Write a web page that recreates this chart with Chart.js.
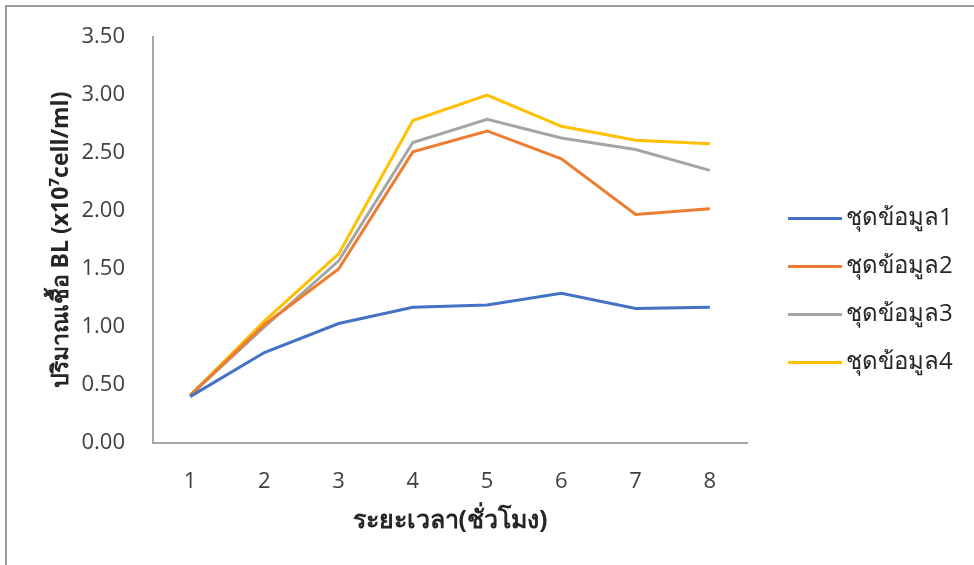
<!DOCTYPE html>
<html>
<head>
<meta charset="utf-8">
<script src="https://cdn.jsdelivr.net/npm/chart.js@4.4.1/dist/chart.umd.min.js"></script>
<style>
  body { margin: 0; background: #fff; }
  #frame { position: absolute; left: 5px; top: 5px; width: 980px; height: 570px;
           border-top: 2px solid #9a9a9a; border-left: 2px solid #9a9a9a; }
  #wrap { position: absolute; left: 0; top: 0; width: 974px; height: 565px; }
</style>
</head>
<body>
<div id="frame"></div>
<div id="wrap"><canvas id="growthChart" width="974" height="565"></canvas></div>
<script>
// hours
const hours = ["1", "2", "3", "4", "5", "6", "7", "8"];
const seriesNames = ["ชุดข้อมูล1", "ชุดข้อมูล2", "ชุดข้อมูล3", "ชุดข้อมูล4"];
// BL counts (x10^7 cell/ml)
const set1 = [0.40, 0.78, 1.03, 1.17, 1.19, 1.29, 1.16, 1.17];
const set2 = [0.41, 1.02, 1.50, 2.51, 2.69, 2.45, 1.97, 2.02];
const set3 = [0.41, 1.00, 1.57, 2.59, 2.79, 2.63, 2.53, 2.35];
const set4 = [0.41, 1.05, 1.63, 2.78, 3.00, 2.73, 2.61, 2.58];
const colors = ["#4472C4", "#ED7D31", "#A5A5A5", "#FFC000"];

const yMin = 0;
const yMax = 3.5;
const yStep = 0.5;

const fontFam = "'Open Sans', 'Noto Sans', 'DejaVu Sans', sans-serif";

// simple legend drawn to the right of the plot
const sideLegend = {
    id: "sideLegend",
    afterDraw(chart) {
        const ctx = chart.ctx;
        const area = chart.chartArea;
        const x0 = area.right + 41;
        const gap = 48;
        const n = chart.data.datasets.length;
        const yMid = chart.height / 2 + 8;
        ctx.save();
        ctx.font = "24px " + fontFam;
        ctx.textBaseline = "middle";
        chart.data.datasets.forEach((ds, i) => {
            const y = yMid + (i - (n - 1) / 2) * gap;
            ctx.strokeStyle = ds.borderColor;
            ctx.lineWidth = 3;
            ctx.beginPath();
            ctx.moveTo(x0, y);
            ctx.lineTo(x0 + 54, y);
            ctx.stroke();
            ctx.fillStyle = "#262626";
            ctx.fillText(ds.label, x0 + 58, y);
        });
        ctx.restore();
    }
};

const datasets = [set1, set2, set3, set4].map((vals, i) => ({
    label: seriesNames[i],
    data: vals,
    borderColor: colors[i],
    backgroundColor: colors[i],
    borderWidth: 3,
    pointRadius: 0,
    tension: 0,
    fill: false
}));

const ctx = document.getElementById("growthChart").getContext("2d");
new Chart(ctx, {
    type: "line",
    data: { labels: hours, datasets: datasets },
    options: {
        responsive: false,
        animation: false,
        layout: { padding: { top: 37, right: 227, bottom: 0, left: 0 } },
        plugins: {
            legend: { display: false },
            tooltip: { enabled: false }
        },
        scales: {
            x: {
                offset: true,
                grid: { display: false },
                border: { display: true, color: "#a6a6a6", width: 2 },
                ticks: { color: "#404040", padding: 18, font: { family: fontFam, size: 22 } },
                title: {
                    display: true,
                    text: "ระยะเวลา(ชั่วโมง)",
                    color: "#262626",
                    padding: { top: 0, bottom: 29 },
                    font: { family: fontFam, size: 25, weight: "bold" }
                },
                afterFit: (scale) => { scale.height = 122; }
            },
            y: {
                min: yMin,
                max: yMax,
                grid: { display: false },
                border: { display: true, color: "#a6a6a6", width: 2 },
                ticks: {
                    stepSize: yStep,
                    color: "#404040",
                    padding: 20,
                    font: { family: fontFam, size: 22 },
                    callback: (v) => Number(v).toFixed(2)
                },
                title: {
                    display: true,
                    text: "ปริมาณเชื้อ BL (x10⁷cell/ml)",
                    color: "#262626",
                    padding: { top: 48, bottom: 0 },
                    font: { family: fontFam, size: 23, weight: "bold" }
                },
                afterFit: (scale) => { scale.width = 153; }
            }
        }
    },
    plugins: [sideLegend]
});
</script>
</body>
</html>
